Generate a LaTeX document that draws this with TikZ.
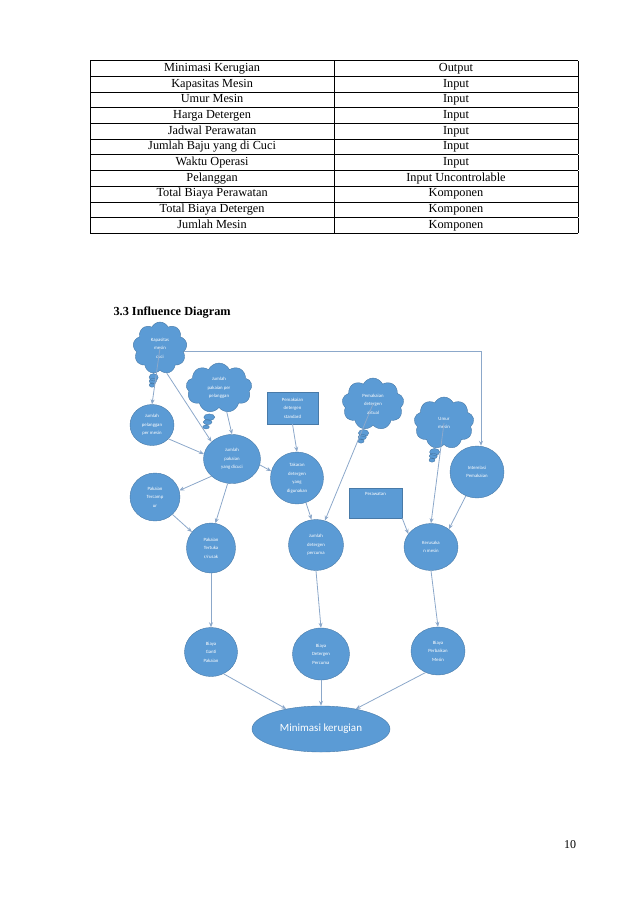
\documentclass[tikz,border=0pt]{standalone}
\usepackage{fontspec}
\setmainfont{Liberation Serif}
\newfontfamily\diagfont{Carlito}
\usepackage{array}
\usetikzlibrary{arrows.meta, shapes.geometric, shapes.symbols, shapes.callouts}
\definecolor{fillblue}{RGB}{91,155,213}
\definecolor{edgeblue}{RGB}{72,122,168}
\definecolor{flowgray}{RGB}{140,168,202}

\begin{document}
\begin{tikzpicture}[x=1pt, y=-1pt,
    circ/.style={ellipse, draw=edgeblue, fill=fillblue, text=white, align=center,
                 font=\diagfont\fontsize{4.8}{8.5}\selectfont, inner sep=0pt,
                 minimum width=52pt, minimum height=48pt},
    thought/.style={cloud callout, draw=edgeblue, fill=fillblue, text=white, align=center,
                 font=\diagfont\fontsize{4.8}{8.5}\selectfont, inner sep=0pt,
                 cloud puffs=9, cloud puff arc=130, cloud ignores aspect,
                 callout pointer segments=3},
    box/.style={rectangle, draw=edgeblue, fill=fillblue, text=white, align=center,
                font=\diagfont\fontsize{4.8}{8.5}\selectfont, inner sep=3pt},
    flow/.style={-{Stealth[length=5pt, width=4pt]}, draw=flowgray, line width=0.8pt},
]
\useasboundingbox (0,0) rectangle (638,903);
% tabel variabel
\node[anchor=north west, inner sep=0pt, font=\fontsize{12.3}{15.3}\selectfont] (tabel) at (90,60) {%
  \begin{tabular}{|>{\centering\arraybackslash}p{231pt}|>{\centering\arraybackslash}p{232pt}|}
  \hline
  Minimasi Kerugian & Output\\ \hline
  Kapasitas Mesin & Input\\ \hline
  Umur Mesin & Input\\ \hline
  Harga Detergen & Input\\ \hline
  Jadwal Perawatan & Input\\ \hline
  Jumlah Baju yang di Cuci & Input\\ \hline
  Waktu Operasi & Input\\ \hline
  Pelanggan & Input Uncontrolable\\ \hline
  Total Biaya Perawatan & Komponen\\ \hline
  Total Biaya Detergen & Komponen\\ \hline
  Jumlah Mesin & Komponen\\ \hline
  \end{tabular}};
\node[anchor=base west, font=\bfseries\fontsize{12.3}{14}\selectfont] (judul) at (110,315) {3.3 Influence Diagram};
% awan (input)
\node[thought, minimum width=54pt, minimum height=52pt, callout absolute pointer={(152,385)}] (kap) at (160,348) {Kapasitas\\mesin\\cuci};
\node[thought, minimum width=66pt, minimum height=50pt, callout absolute pointer={(206,427)}] (jpp) at (219,388) {Jumlah\\pakaian per\\pelanggan};
\node[thought, minimum width=62pt, minimum height=52pt, callout absolute pointer={(361,441)}] (pda) at (373,404) {Pemakaian\\detergen\\aktual};
\node[thought, minimum width=60pt, minimum height=52pt, callout absolute pointer={(432,460)}] (umur) at (444,423) {Umur\\mesin};
% kotak
\node[box, minimum width=51pt, minimum height=32pt] (pds) at (292.5,408) {Pemakaian\\detergen\\standard};
\node[box, minimum width=53pt, minimum height=30pt, text height=4pt, text depth=20pt] (rawat) at (375.5,503) {Perawatan};
% lingkaran
\node[circ, minimum width=44pt, minimum height=41pt] (jpm) at (152,425) {Jumlah\\pelanggan\\per mesin};
\node[circ, minimum width=57pt, minimum height=49pt] (jpd) at (232,459) {Jumlah\\pakaian\\yang dicuci};
\node[circ, minimum width=53pt, minimum height=52pt] (tak) at (297,478) {Takaran\\detergen\\yang\\digunakan};
\node[circ, minimum width=54pt, minimum height=52pt] (inter) at (477,472) {Interelasi\\Pemakaian};
\node[circ, minimum width=50pt, minimum height=48pt] (ptc) at (155,497) {Pakaian\\Tercamp\\ur};
\node[circ, minimum width=49pt, minimum height=50pt] (ptr) at (211,548) {Pakaian\\Tertuka\\r/rusak};
\node[circ, minimum width=55pt, minimum height=51pt] (jdp) at (316,545) {Jumlah\\detergen\\percuma};
\node[circ, minimum width=54pt, minimum height=47pt] (kerus) at (431,547) {Kerusaka\\n mesin};
\node[circ, minimum width=53pt, minimum height=49pt] (bgp) at (211,652) {Biaya\\Ganti\\Pakaian};
\node[circ, minimum width=57pt, minimum height=52pt] (bdp) at (321,654) {Biaya\\Detergen\\Percuma};
\node[circ, minimum width=54pt, minimum height=48pt] (bpm) at (438,651) {Biaya\\Perbaikan\\Mesin};
\node[circ, minimum width=138pt, minimum height=46pt, font=\diagfont\fontsize{11}{13}\selectfont] (mink) at (321,729) {Minimasi kerugian};
% hubungan
\draw[flow] (kap.pointer) -- (jpm.north);
\draw[flow] (kap.-75) -- (jpd.140);
\draw[flow] (kap.-8) -| ([xshift=4pt]inter.north);
\draw[flow] (jpp.-72) -- (jpd.north);
\draw[flow] (jpm.-40) -- (jpd.170);
\draw[flow] (jpd.-12) -- (tak.165);
\draw[flow] (pds.south) -- (tak.north);
\draw[flow] (jpd.220) -- (ptc.15);
\draw[flow] (jpd.-100) -- (ptr.80);
\draw[flow] (ptc.-45) -- (ptr.140);
\draw[flow] (tak.-70) -- (jdp.100);
\draw[flow] (pda.pointer) -- (jdp.70);
\draw[flow] (umur.pointer) -- (kerus.north);
\draw[flow] (inter.-115) -- (kerus.45);
\draw[flow] (rawat.south east) -- (kerus.150);
\draw[flow] (ptr.south) -- (bgp.north);
\draw[flow] (jdp.south) -- (bdp.north);
\draw[flow] (kerus.south) -- (bpm.north);
\draw[flow] (bgp.-60) -- (mink.150);
\draw[flow] (bdp.south) -- (mink.north);
\draw[flow] (bpm.-120) -- (mink.30);
\node[font=\fontsize{12}{14}\selectfont] (hal) at (570,845) {10};
\end{tikzpicture}
\end{document}
